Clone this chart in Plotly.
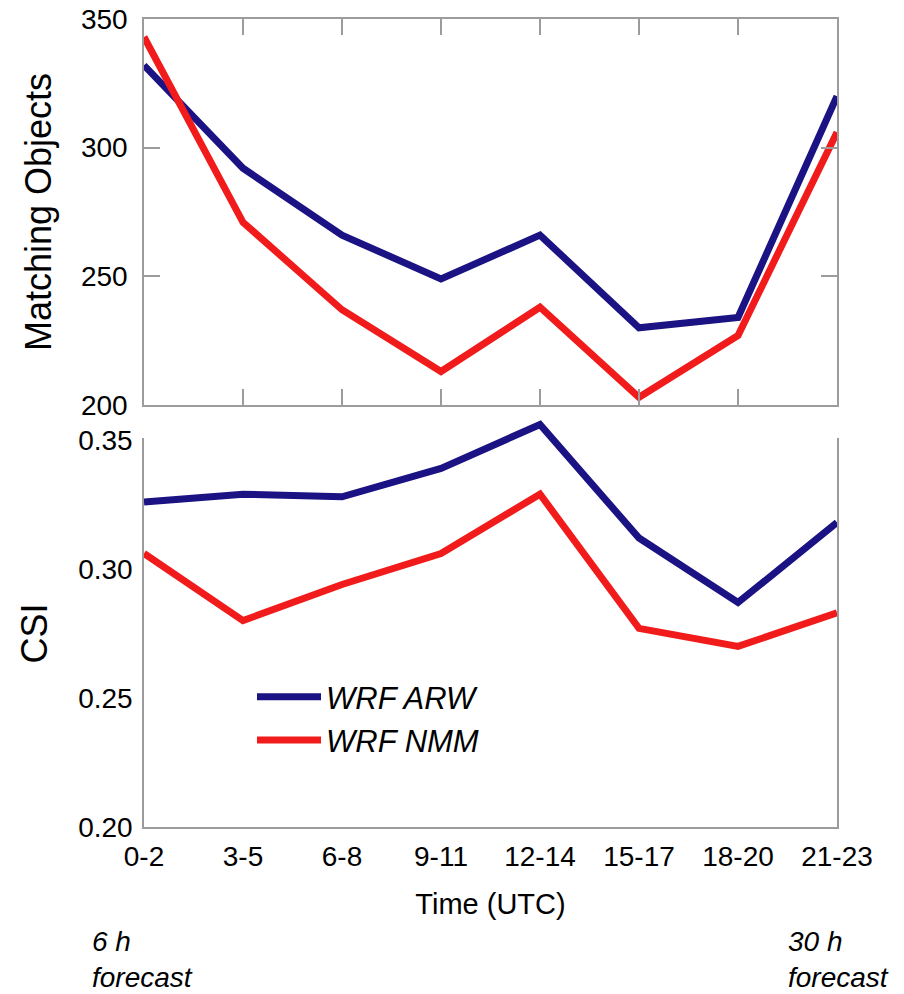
import plotly.graph_objects as go

# ---------------- data ----------------
categories = ["0-2", "3-5", "6-8", "9-11", "12-14", "15-17", "18-20", "21-23"]
matching_arw = [332, 292, 266, 249, 266, 230, 234, 320]
matching_nmm = [343, 271, 237, 213, 238, 203, 227, 306]
csi_arw = [0.326, 0.329, 0.328, 0.339, 0.356, 0.312, 0.287, 0.318]
csi_nmm = [0.306, 0.280, 0.294, 0.306, 0.329, 0.277, 0.270, 0.283]
matching_ticks = [200, 250, 300, 350]
csi_ticks = [0.20, 0.25, 0.30, 0.35]
series_names = ["WRF ARW", "WRF NMM"]

# ---------------- style ----------------
FONT = "Liberation Sans, Arial, sans-serif"
ARW_COLOR = "#1b1283"
NMM_COLOR = "#f21b1b"
FRAME = "#9c9c9c"
W, H = 904, 994
ML, MR, MT, MB = 144, 67, 19, 167
plot_w = W - ML - MR
plot_h = H - MT - MB


def px_x(sx):
    return (sx - ML) / plot_w


def px_y(sy):
    return (H - MB - sy) / plot_h


top_domain = [px_y(405), 1.0]
bot_domain = [0.0, px_y(440)]
csi_range = [0.20, 0.35]
# invisible overlay axis with the same scale, so lines may rise above 0.35
csi_ext_top = 0.36
ext_frac = (csi_ext_top - csi_range[0]) / (csi_range[1] - csi_range[0])
ext_domain = [0.0, bot_domain[1] * ext_frac]

xr = [0, len(categories) - 1]

fig = go.Figure()
for name, vals, col in zip(series_names, [matching_arw, matching_nmm], [ARW_COLOR, NMM_COLOR]):
    fig.add_trace(go.Scatter(x=categories, y=vals, mode="lines", name=name,
                             line=dict(color=col, width=7), showlegend=False,
                             legendgroup=name, xaxis="x", yaxis="y"))
# empty trace so the framed CSI subplot is drawn
fig.add_trace(go.Scatter(x=[], y=[], mode="lines", showlegend=False, hoverinfo="skip",
                         xaxis="x2", yaxis="y2"))
for name, vals, col in zip(series_names, [csi_arw, csi_nmm], [ARW_COLOR, NMM_COLOR]):
    fig.add_trace(go.Scatter(x=categories, y=vals, mode="lines", name=name,
                             line=dict(color=col, width=7), showlegend=True,
                             legendgroup=name, xaxis="x3", yaxis="y3"))

axis_common = dict(showline=True, linecolor=FRAME, linewidth=1.5, mirror="ticks",
                   ticks="inside", ticklen=16, tickwidth=1.5, tickcolor=FRAME,
                   showgrid=False, zeroline=False, automargin=False,
                   ticklabeloverflow="allow",
                   tickfont=dict(family=FONT, size=28, color="black"))

ann_font = dict(family=FONT, size=28, style="italic", color="black")

fig.update_layout(
    width=W, height=H,
    margin=dict(l=ML, r=MR, t=MT, b=MB, autoexpand=False),
    paper_bgcolor="white", plot_bgcolor="white",
    font=dict(family=FONT, color="black"),
    xaxis=dict(domain=[0, 1], anchor="y", type="category", range=xr,
               showticklabels=False, **axis_common),
    yaxis=dict(domain=top_domain, anchor="x", range=[200, 350], tickvals=matching_ticks,
               ticklabelstandoff=9,
               title=dict(text="Matching Objects", font=dict(family=FONT, size=36), standoff=18),
               **axis_common),
    xaxis2=dict(domain=[0, 1], anchor="y2", type="linear", range=xr,
                tickvals=list(range(len(categories))), ticktext=categories,
                ticklabelstandoff=4,
                title=dict(text="Time (UTC)", font=dict(family=FONT, size=29), standoff=22),
                **axis_common),
    yaxis2=dict(domain=bot_domain, anchor="x2", range=csi_range, tickvals=csi_ticks,
                tickformat=".2f", ticklabelstandoff=4,
                title=dict(text="CSI", font=dict(family=FONT, size=36), standoff=20),
                **axis_common),
    xaxis3=dict(domain=[0, 1], anchor="y3", type="category", range=xr, visible=False),
    yaxis3=dict(domain=ext_domain, anchor="x3", range=[csi_range[0], csi_ext_top], visible=False),
    legend=dict(x=px_x(252), y=px_y(670), xanchor="left", yanchor="top",
                bgcolor="rgba(0,0,0,0)",
                font=dict(family=FONT, size=31, style="italic"), itemwidth=64,
                tracegroupgap=0),
    showlegend=True,
    annotations=[
        dict(text="6 h<br>forecast", xref="paper", yref="paper",
             x=px_x(90), y=px_y(924), xanchor="left", yanchor="top", align="left",
             showarrow=False, font=ann_font),
        dict(text="30 h<br>forecast", xref="paper", yref="paper",
             x=px_x(786), y=px_y(924), xanchor="left", yanchor="top", align="left",
             showarrow=False, font=ann_font),
    ],
)

# remove the page's default 8px body margin so the figure fills the window exactly
fig.write_html("out.html",
               config={"displayModeBar": False},
               post_script="document.body.style.margin='0';document.body.style.overflow='hidden';")
